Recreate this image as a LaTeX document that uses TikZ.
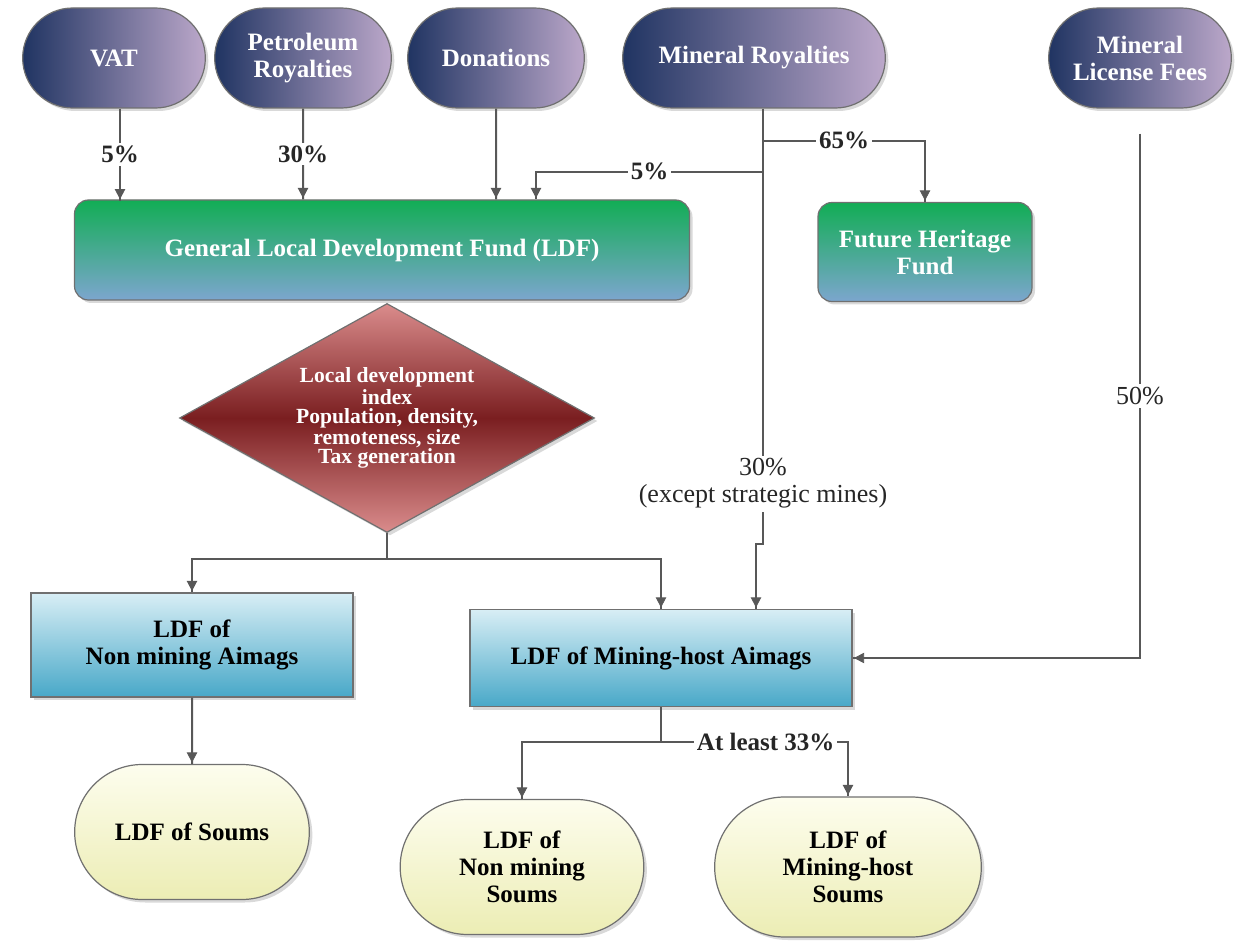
\documentclass[tikz,border=0pt]{standalone}
\usepackage{fontspec}
\setmainfont{Liberation Serif}
\usetikzlibrary{positioning, shapes.geometric, shapes.misc, arrows.meta,
        decorations.markings, shadows}
\definecolor{navy}{RGB}{32,52,98}
\definecolor{lilac}{RGB}{188,168,202}
\definecolor{fundgreen}{RGB}{18,173,85}
\definecolor{fundblue}{RGB}{124,166,206}
\definecolor{indexred}{RGB}{122,30,32}
\definecolor{indexpink}{RGB}{218,140,140}
\definecolor{aimaglight}{RGB}{216,238,245}
\definecolor{aimagdark}{RGB}{72,168,200}
\definecolor{soumlight}{RGB}{253,253,238}
\definecolor{soumdark}{RGB}{236,237,180}
\definecolor{linegray}{RGB}{88,88,88}
\definecolor{edgegray}{RGB}{112,112,112}
\tikzstyle{Arrow} = [
line width=1pt, draw=linegray,
decoration={
markings,
mark=at position 0.9999 with {
\arrow[linegray]{Triangle[length=6pt,width=6pt]}}},
preaction = {decorate}]
\tikzstyle{Line} = [line width=1pt, draw=linegray]
\tikzstyle{Shadowed} = [draw=edgegray, line width=0.6pt, align=center,
drop shadow={opacity=0.3, shadow xshift=1.5pt, shadow yshift=-1.5pt}]
\tikzstyle{Source} = [Shadowed, rounded rectangle, left color=navy, right color=lilac,
text=white, minimum height=50pt, font=\fontsize{12.5}{13.5}\selectfont\bfseries]
\tikzstyle{Fund} = [Shadowed, rectangle, rounded corners=7pt, top color=fundgreen,
bottom color=fundblue, text=white, font=\fontsize{12.5}{13.5}\selectfont\bfseries]
\tikzstyle{Index} = [Shadowed, diamond, aspect=1.81, inner sep=0pt, top color=indexpink,
bottom color=indexpink, middle color=indexred, text=white,
minimum width=207.5pt, minimum height=114.5pt, font=\fontsize{10.8}{9.3}\selectfont\bfseries]
\tikzstyle{Aimag} = [Shadowed, rectangle, top color=aimaglight, bottom color=aimagdark,
text=black, font=\fontsize{12.5}{13.5}\selectfont\bfseries]
\tikzstyle{Soum} = [Shadowed, rounded rectangle, top color=soumlight, bottom color=soumdark,
text=black, font=\fontsize{12.5}{13.5}\selectfont\bfseries]
\tikzstyle{Share} = [fill=white, inner sep=1.5pt, text=black!85,
font=\fontsize{12.5}{13.5}\selectfont\bfseries]
\tikzstyle{Note} = [fill=white, inner sep=1.5pt, align=center, text=black!85,
font=\fontsize{13}{13.5}\selectfont]

\begin{document}
\begin{tikzpicture}[on grid]
    \useasboundingbox (0,0) rectangle (619pt,-470.5pt);
    \node [Source, minimum width=98pt] (1) at (57pt,-29pt) {VAT};
    \node [Source, minimum width=95pt, right=94.5pt of 1] (2) {Petroleum\\Royalties};
    \node [Source, minimum width=95pt, right=96.5pt of 2] (3) {Donations};
    \node [Source, minimum width=138pt, right=129pt of 3] (4) {Mineral Royalties};
    \node [Source, minimum width=98pt, right=193pt of 4] (5) {Mineral\\License Fees};
    \node [Fund, minimum width=307.5pt, minimum height=50pt, below right=96pt and 134pt of 1] (6) {General Local Development Fund (LDF)};
    \node [Fund, minimum width=107pt, minimum height=49.5pt, below right=97pt and 85.5pt of 4] (7) {Future Heritage\\Fund};
    \node [Index, below=84pt of 6, xshift=2.5pt] (8) {Local development\\index\\Population, density,\\remoteness, size\\Tax generation};
    \node [Aimag, minimum width=161pt, minimum height=52pt, below left=113.5pt and 97.5pt of 8] (9) {LDF of\\Non mining Aimags};
    \node [Aimag, minimum width=191pt, minimum height=48.5pt, below right=120pt and 137pt of 8] (10) {LDF of Mining-host Aimags};
    \node [Soum, minimum width=124pt, minimum height=67.5pt, below=93.5pt of 9] (11) {LDF of Soums};
    \node [Soum, minimum width=128.5pt, minimum height=67.5pt, below left=104.5pt and 69.5pt of 10] (12) {LDF of\\Non mining\\Soums};
    \node [Soum, minimum width=140pt, minimum height=70pt, below right=104.5pt and 93.5pt of 10] (13) {LDF of\\Mining-host\\Soums};
    \coordinate (a) at ([xshift=4.5pt]4.south);
    \coordinate (b) at ([yshift=-16pt]a);
    \coordinate (c) at ([yshift=-31.5pt]a);
    \coordinate (d) at ([yshift=-217.5pt]a);
    \coordinate (e) at ([xshift=-3.5pt]d);
    \coordinate (f) at ([yshift=-13pt]8.south);
    \coordinate (g) at ([yshift=-17.5pt]10.south);
    \coordinate (h) at ([yshift=-12.5pt]5.south);
    \draw[Arrow] ([xshift=3pt]1.south) -- node[Share]{5\%} ++(0,-46pt);
    \draw[Arrow] (2) -- node[Share]{30\%} (2 |- 6.north);
    \draw[Arrow] (3) -- (3 |- 6.north);
    \draw[Arrow] (a) -- node[Note, pos=0.862]{30\%\\(except strategic mines)} (d) -- (e) -- (e |- 10.north);
    \draw[Arrow] (b) -| node[Share, pos=0.25]{65\%} (7.north);
    \draw[Arrow] (c) -| node[Share, pos=0.25]{5\%} ([xshift=77pt]6.north);
    \draw[Arrow] (h) |- node[Note, pos=0.25]{50\%} (10.east);
    \draw[Line] (8) -- (f);
    \draw[Arrow] (f) -| (9.north);
    \draw[Arrow] (f) -| (10.north);
    \draw[Arrow] (9) -- (11);
    \draw[Line] (10) -- (g);
    \draw[Arrow] (g) -| (12.north);
    \draw[Arrow] (g) -| node[Share, pos=0.28]{At least 33\%} (13.north);
\end{tikzpicture}
\end{document}
